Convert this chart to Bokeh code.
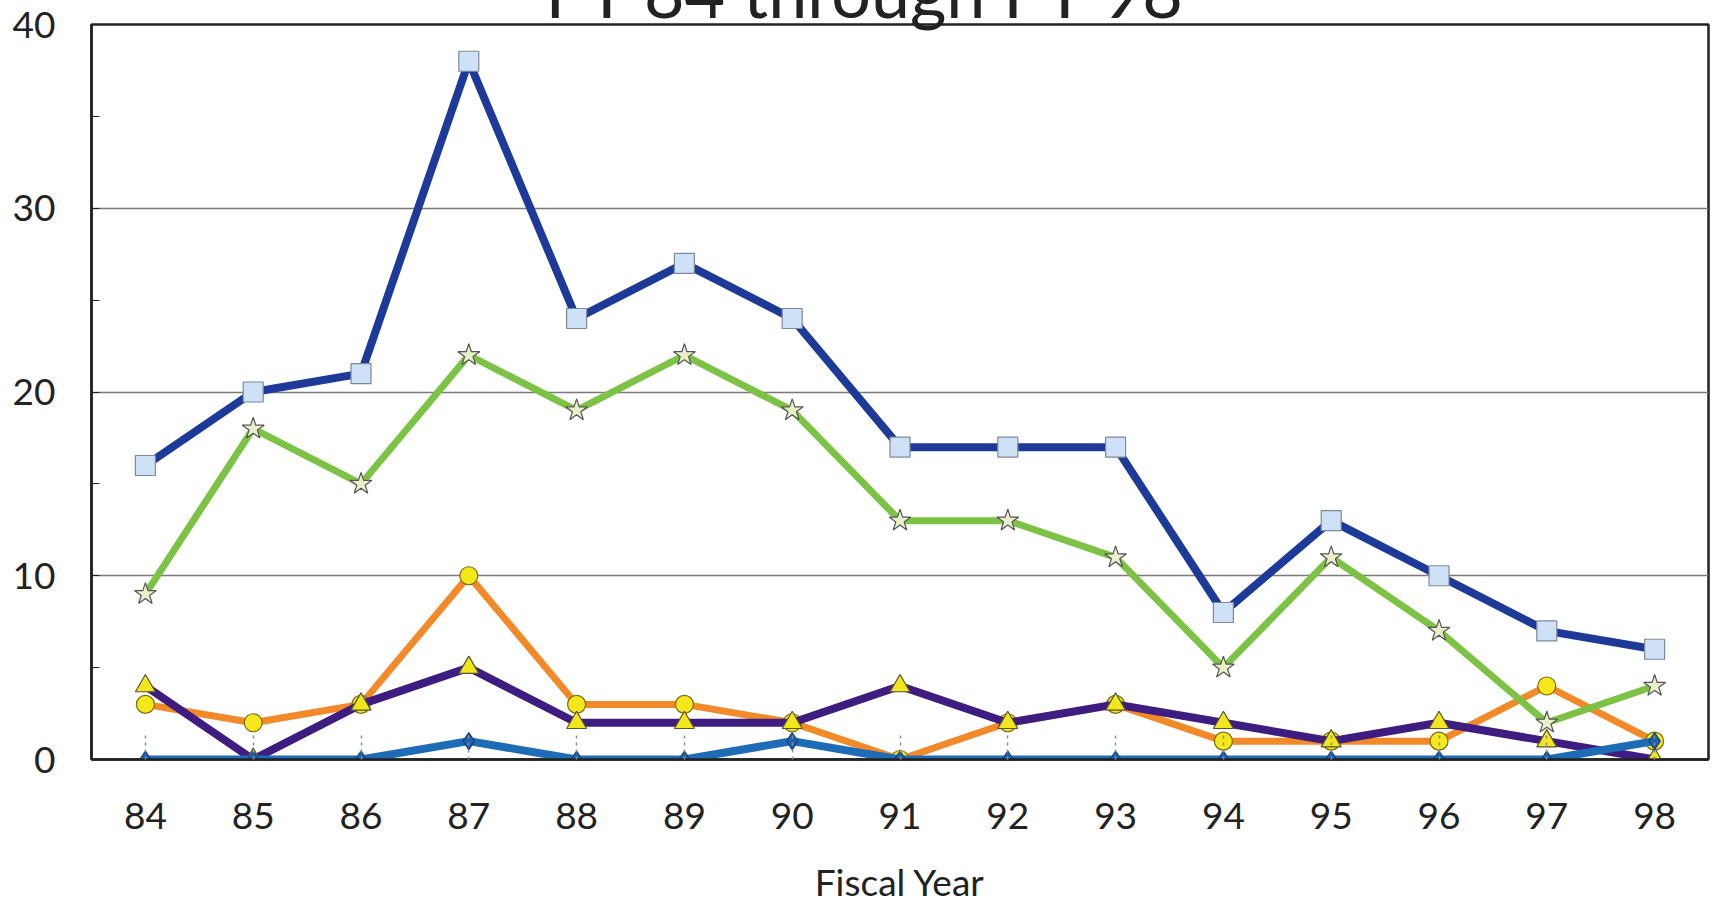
from bokeh.plotting import figure
from bokeh.models import FactorRange, Range1d, FixedTicker, Title
from bokeh.embed import file_html
from bokeh.resources import INLINE

# Fiscal years on the x axis
years = ["84", "85", "86", "87", "88", "89", "90", "91", "92", "93", "94", "95", "96", "97", "98"]

# Counts per fiscal year for each series
squares_series = [16, 20, 21, 38, 24, 27, 24, 17, 17, 17, 8, 13, 10, 7, 6]
stars_series = [9, 18, 15, 22, 19, 22, 19, 13, 13, 11, 5, 11, 7, 2, 4]
circles_series = [3, 2, 3, 10, 3, 3, 2, 0, 2, 3, 1, 1, 1, 4, 1]
triangles_series = [4, 0, 3, 5, 2, 2, 2, 4, 2, 3, 2, 1, 2, 1, 0]
diamonds_series = [0, 0, 0, 1, 0, 0, 1, 0, 0, 0, 0, 0, 0, 0, 1]

y_ticks = [0, 10, 20, 30, 40]
y_minor = [5, 15, 25, 35]

title_text = "FY 84 through FY 98"
x_title = "Fiscal Year"

FONT = "Lato"
TEXT = "#222222"

# title hangs off the top of the canvas, with its descenders touching the frame
title = Title(
    text=title_text, align="left", offset=454,
    vertical_align="top", standoff=-151,
    text_font=FONT, text_font_size="70px", text_font_style="normal",
    text_color=TEXT,
)

p = figure(
    width=1713, height=907,
    x_range=FactorRange(factors=years, range_padding=0),
    y_range=Range1d(0, 40),
    title=title,
    output_backend="svg", toolbar_location=None,
    min_border_left=91, min_border_right=5,
    min_border_top=24, min_border_bottom=148,
    background_fill_color="white", border_fill_color="white",
)

p.outline_line_color = TEXT
p.outline_line_width = 2.5

# grid: horizontal lines at the interior major ticks only
p.xgrid.grid_line_color = None
p.ygrid.ticker = FixedTicker(ticks=[10, 20, 30])
p.ygrid.grid_line_color = "#7a7a7a"
p.ygrid.grid_line_width = 1.5

# y axis
p.yaxis.ticker = FixedTicker(ticks=y_ticks, minor_ticks=y_minor)
p.yaxis.axis_line_color = TEXT
p.yaxis.axis_line_width = 2.5
p.yaxis.major_tick_in = 8
p.yaxis.major_tick_out = 0
p.yaxis.minor_tick_in = 8
p.yaxis.minor_tick_out = 0
p.yaxis.major_tick_line_color = TEXT
p.yaxis.minor_tick_line_color = TEXT
p.yaxis.major_label_standoff = 36
p.yaxis.major_label_text_font = FONT
p.yaxis.major_label_text_font_size = "37px"
p.yaxis.major_label_text_color = TEXT

# x axis
p.xaxis.axis_line_color = TEXT
p.xaxis.axis_line_width = 2.5
p.xaxis.major_tick_in = 28
p.xaxis.major_tick_out = 0
p.xaxis.major_tick_line_color = "#8090a0"
p.xaxis.major_tick_line_width = 1.5
p.xaxis.major_tick_line_dash = "3 4"
p.xaxis.major_label_standoff = 43
p.xaxis.major_label_text_font = FONT
p.xaxis.major_label_text_font_size = "37px"
p.xaxis.major_label_text_color = TEXT
p.xaxis.axis_label = x_title
p.xaxis.axis_label_standoff = 27
p.xaxis.axis_label_text_font = FONT
p.xaxis.axis_label_text_font_size = "37px"
p.xaxis.axis_label_text_font_style = "normal"
p.xaxis.axis_label_text_color = TEXT

# series: (values, line colour, line width, marker, marker size, fill, outline)
series = [
    (circles_series, "#F28A2A", 7, "circle", 18, "#F4E71A", "#7a6a10"),
    (triangles_series, "#3E1C80", 8, "triangle", 20, "#F2E61C", "#555533"),
    (diamonds_series, "#1F6CB6", 8, "diamond", 17, "#1F62B0", "#15407a"),
    (stars_series, "#7CC244", 7, "star", 23, "#E9F0C9", "#555555"),
    (squares_series, "#1D3A99", 8, "square", 20, "#CFE1F6", "#7d8a99"),
]

for vals, lc, lw, mk, ms, fc, oc in series:
    p.line(years, vals, line_color=lc, line_width=lw, line_join="round")
    p.scatter(years, vals, marker=mk, size=ms, fill_color=fc,
              line_color=oc, line_width=1.2)

open("out.html", "w").write(file_html(p, INLINE))
